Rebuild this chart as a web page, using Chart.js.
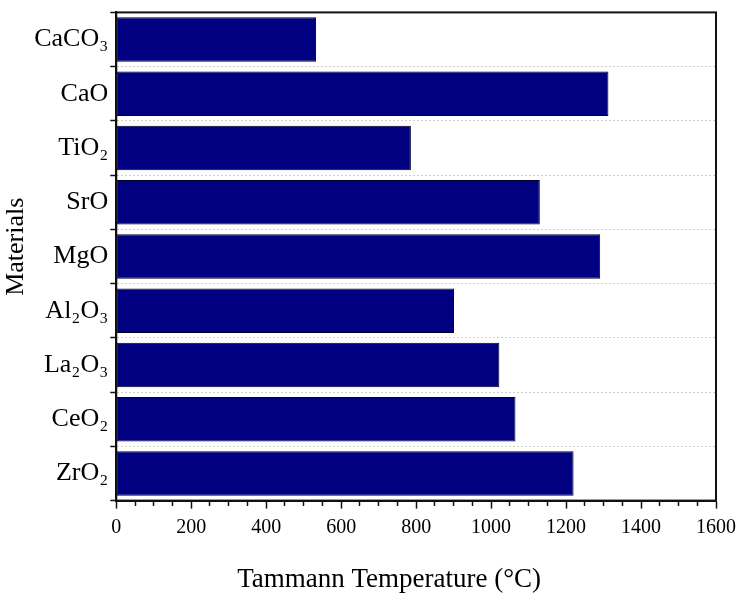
<!DOCTYPE html>
<html>
<head>
<meta charset="utf-8">
<script src="https://cdn.jsdelivr.net/npm/chart.js@4"></script>
<style>
  html, body { margin: 0; padding: 0; background: #fff; }
  #wrap { width: 743px; height: 597px; }
</style>
</head>
<body>
<div id="wrap"><canvas id="tammannChart"></canvas></div>
<script>
// materials, top to bottom
const materials = ["CaCO₃", "CaO", "TiO₂", "SrO", "MgO", "Al₂O₃", "La₂O₃", "CeO₂", "ZrO₂"];
// tammann temperature in °C
const tammannTemps = [533, 1313, 786, 1130, 1291, 901, 1022, 1065, 1220];
const xMin = 0;
const xMax = 1600;
const xMajorStep = 200;
const xMinorStep = 50;

const serif = "'Liberation Serif', 'Times New Roman', serif";
const nb = "\u00a0";

// draws the closed box round the plot area
const frameBox = {
  id: "frameBox",
  afterDraw(chart) {
    const { ctx, chartArea: a } = chart;
    ctx.save();
    ctx.strokeStyle = "#111";
    ctx.lineWidth = 2;
    ctx.strokeRect(a.left, a.top, a.right - a.left, a.bottom - a.top);
    ctx.restore();
  },
};

const ctx = document.getElementById("tammannChart").getContext("2d");

new Chart(ctx, {
  type: "bar",
  data: {
    labels: materials,
    datasets: [
      {
        data: tammannTemps,
        backgroundColor: "#000080",
        borderColor: "#00002a",
        borderWidth: 1,
        borderSkipped: false,
        barPercentage: 0.82,
        categoryPercentage: 1.0,
      },
    ],
  },
  options: {
    indexAxis: "y",
    responsive: true,
    maintainAspectRatio: false,
    animation: false,
    layout: {
      padding: { top: 11, right: 21, bottom: 1, left: 1 },
    },
    plugins: {
      legend: { display: false },
      tooltip: { enabled: false },
    },
    scales: {
      x: {
        min: xMin,
        max: xMax,
        border: { display: true, color: "#111", width: 2 },
        grid: {
          drawOnChartArea: false,
          drawTicks: true,
          tickLength: 8,
          tickColor: "#111",
          tickWidth: 1.5,
          // shorter minor ticks
          tickBorderDash: (c) => (c.tick && c.tick.value % xMajorStep === 0 ? [] : [4, 40]),
        },
        ticks: {
          stepSize: xMinorStep,
          autoSkip: false,
          maxRotation: 0,
          padding: 7,
          color: "#000",
          font: { family: serif, size: 20 },
          callback: (v) => (v % xMajorStep === 0 ? String(v) : ""),
        },
        title: {
          display: true,
          // trailing spaces pull the title a little left, as in the source figure
          text: "Tammann Temperature (°C)" + nb.repeat(8),
          color: "#000",
          font: { family: serif, size: 27 },
          padding: { top: 17, bottom: 0 },
        },
      },
      y: {
        border: { display: true, color: "#111", width: 2, dash: [2, 2] },
        grid: {
          offset: true,
          color: "#cfcfcf",
          lineWidth: 1,
          tickLength: 6,
          tickColor: "#111",
          tickWidth: 1.5,
          tickBorderDash: [],
        },
        ticks: {
          padding: 2,
          color: "#000",
          font: { family: serif, size: 26, lineHeight: 0.8 },
        },
        title: {
          display: true,
          text: nb.repeat(3) + "Materials",
          color: "#000",
          font: { family: serif, size: 26 },
          padding: { top: 0, bottom: 0 },
        },
      },
    },
  },
  plugins: [frameBox],
});
</script>
</body>
</html>
